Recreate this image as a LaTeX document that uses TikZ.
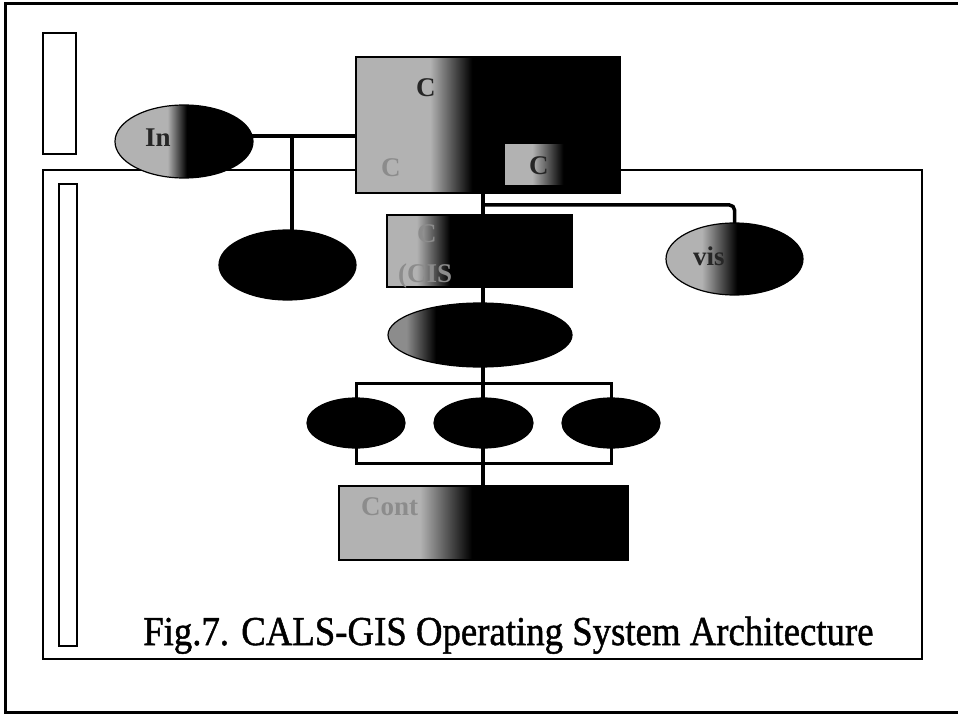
\documentclass[tikz,border=0pt]{standalone}
\usepackage{fontspec}
\usepackage{graphicx}
\setmainfont{Liberation Serif}
\newfontfamily\capfont[FakeBold=1.2]{Liberation Serif}
\usetikzlibrary{shapes.geometric}
\definecolor{lg}{gray}{0.70}
\definecolor{mg}{gray}{0.55}
\pgfdeclarehorizontalshading{sInt}{100bp}{color(0bp)=(lg); color(44bp)=(lg); color(51bp)=(black); color(100bp)=(black)}
\pgfdeclarehorizontalshading{sTop}{100bp}{color(0bp)=(lg); color(39bp)=(lg); color(47bp)=(black); color(100bp)=(black)}
\pgfdeclarehorizontalshading{sSub}{100bp}{color(0bp)=(lg); color(47bp)=(lg); color(72bp)=(black); color(100bp)=(black)}
\pgfdeclarehorizontalshading{sBoxB}{100bp}{color(0bp)=(lg); color(33bp)=(lg); color(42bp)=(black); color(100bp)=(black)}
\pgfdeclarehorizontalshading{sVis}{100bp}{color(0bp)=(lg); color(38bp)=(lg); color(51bp)=(black); color(100bp)=(black)}
\pgfdeclarehorizontalshading{sMid}{100bp}{color(0bp)=(mg); color(30bp)=(mg); color(38bp)=(black); color(100bp)=(black)}
\pgfdeclarehorizontalshading{sCtrl}{100bp}{color(0bp)=(lg); color(39bp)=(lg); color(48bp)=(black); color(100bp)=(black)}
\pgfdeclarelayer{bg}
\pgfsetlayers{bg,main}
\tikzset{
  frameline/.style={line width=2.5pt, line cap=rect},
  conn/.style={line width=3.5pt},
  blk/.style={draw=black, line width=1.2pt, inner sep=0pt},
  ell/.style={blk, ellipse},
  boxs/.style={blk, rectangle},
  frag/.style={font=\fontsize{27}{27}\selectfont\bfseries, text=black!85, inner sep=0pt, anchor=base west},
}
\begin{document}
\begin{tikzpicture}[x=1pt,y=-1pt]
\useasboundingbox (0,0) rectangle (958,714);
% frames
\draw[frameline, line width=3pt] (958,4) -- (5,4) -- (5,712) -- (958,712);
\draw[frameline, line width=2pt] (43,33) rectangle (76,154);
\draw[frameline] (43,170) rectangle (922,659);
\draw[frameline, line width=2pt] (59,184) rectangle (77,646);

% shapes
\node[ell, shading=sInt, minimum width=138pt, minimum height=73pt] (int) at (184,141.5) {};
\node[ell, fill=black, minimum width=137pt, minimum height=70pt] (lell) at (287.5,265) {};
\node[boxs, shading=sTop, minimum width=264pt, minimum height=136pt] (top) at (488,125) {};
\node[rectangle, inner sep=0pt, shading=sSub, minimum width=62pt, minimum height=40pt] (sub) at (536,165) {};
\node[boxs, shading=sBoxB, minimum width=185pt, minimum height=72pt] (boxb) at (479.5,251) {};
\node[ell, shading=sVis, minimum width=137pt, minimum height=72pt] (vis) at (734.5,259) {};
\node[ell, shading=sMid, minimum width=184pt, minimum height=64pt] (mid) at (480,335) {};
\node[ell, fill=black, minimum width=98pt, minimum height=50pt] (e1) at (356,423) {};
\node[ell, fill=black, minimum width=99pt, minimum height=50pt] (e2) at (483.5,423) {};
\node[ell, fill=black, minimum width=98pt, minimum height=50pt] (e3) at (611,423) {};
\node[boxs, shading=sCtrl, minimum width=289pt, minimum height=74pt] (ctrl) at (483.5,523) {};

% text fragments
\node[frag] (tin) at (145,147) {In};
\node[frag] (tc1) at (416,97) {C};
\node[frag, text=mg] (tc2) at (381,177) {C};
\node[frag] (tc3) at (529,175) {C};
\node[frag, text=mg] (tc4) at (417,242) {C};
\node[frag, text=mg] (tc5) at (398,282) {(CIS};
\node[frag] (tvis) at (693,265) {vis};
\node[frag, text=mg] (tcont) at (361,515) {Cont};

% caption
\node[font=\capfont\fontsize{41}{44}\selectfont, inner sep=0pt, anchor=base west] (cap) at (143,645) {\scalebox{0.897}[1]{Fig.7. CALS-GIS Operating System Architecture}};

% connectors
\coordinate (j1) at (292,136);
\coordinate (j2) at (483,205);
\coordinate (bt) at (483,383);
\coordinate (bb) at (483,463);
\begin{pgfonlayer}{bg}
\draw[conn] (int.center |- j1) -- (top.center |- j1);
\draw[conn] (j1) -- (j1 |- lell.center);
\draw[conn] (j2 |- top.center) -- (j2 |- ctrl.center);
\draw[conn, rounded corners=5pt] (j2) -- (j2 -| vis.center) -- (vis.center);
\draw[conn, line width=3pt] (e1.center |- bt) -- (e3.center |- bt) -- (e3.center |- bb) -- (e1.center |- bb) -- cycle;
\end{pgfonlayer}
\end{tikzpicture}
\end{document}
